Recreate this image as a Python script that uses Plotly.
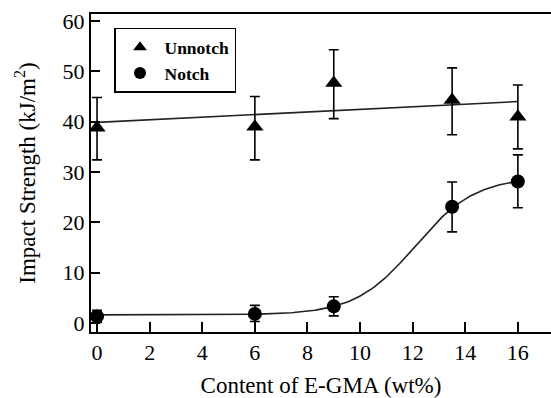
import numpy as np
import plotly.graph_objects as go

# Data
x_content = [0, 6, 9, 13.5, 16]
unnotch = [38.8, 39.0, 47.7, 44.3, 41.0]
unnotch_err_plus = [6.0, 6.0, 6.6, 6.4, 6.3]
unnotch_err_minus = [6.4, 6.6, 7.1, 6.9, 6.4]
notch = [1.3, 1.8, 3.3, 23.1, 28.1]
notch_err_plus = [1.2, 1.7, 1.9, 4.9, 5.3]
notch_err_minus = [1.2, 1.5, 1.9, 5.0, 5.2]

# Sigmoid (Boltzmann) fit parameters
boltz_A1, boltz_A2, boltz_x0, boltz_dx = 1.6, 29.0, 12.1, 1.14

x_ticks = [0, 2, 4, 6, 8, 10, 12, 14, 16]
y_ticks = [0, 10, 20, 30, 40, 50, 60]

FONT = "Liberation Serif, Times New Roman, serif"

# linear fit for unnotched
slope, intercept = np.polyfit(x_content, unnotch, 1)
xl = np.array([0, 16])
yl = slope * xl + intercept

xs = np.linspace(0, 16, 200)
ys = boltz_A2 + (boltz_A1 - boltz_A2) / (1 + np.exp((xs - boltz_x0) / boltz_dx))

fig = go.Figure()
fig.add_trace(go.Scatter(x=xl, y=yl, mode="lines", line=dict(color="#222", width=1.6),
                         showlegend=False, hoverinfo="skip"))
fig.add_trace(go.Scatter(x=xs, y=ys, mode="lines", line=dict(color="#222", width=1.6),
                         showlegend=False, hoverinfo="skip"))
fig.add_trace(go.Scatter(
    x=x_content, y=unnotch, mode="markers", name="Unnotch",
    marker=dict(symbol="triangle-up", size=15, color="black"),
    error_y=dict(type="data", symmetric=False, array=unnotch_err_plus,
                 arrayminus=unnotch_err_minus, color="black", thickness=1.6, width=5)))
fig.add_trace(go.Scatter(
    x=x_content, y=notch, mode="markers", name="Notch",
    marker=dict(symbol="circle", size=14, color="black"),
    error_y=dict(type="data", symmetric=False, array=notch_err_plus,
                 arrayminus=notch_err_minus, color="black", thickness=1.6, width=5)))

fig.update_layout(
    width=551, height=398,
    margin=dict(l=91, r=0, t=14, b=66),
    plot_bgcolor="white", paper_bgcolor="white",
    font=dict(family=FONT, color="black", size=22),
    legend=dict(x=0.05, y=0.956, xanchor="left", yanchor="top",
                bordercolor="black", borderwidth=1.5, bgcolor="white",
                font=dict(family=FONT, size=17.5, color="black", weight="bold"),
                itemsizing="constant", itemwidth=39, tracegroupgap=0),
    xaxis=dict(range=[-0.23, 17.26], tickvals=x_ticks, ticks="inside", ticklen=10,
               tickwidth=1.6, tickcolor="black", showline=True, linecolor="black",
               linewidth=2, mirror=True, showgrid=False, zeroline=False,
               tickfont=dict(size=22),
               title=dict(text="Content of E-GMA (wt%)", font=dict(size=23), standoff=12)),
    yaxis=dict(range=[-1.8, 61.4], tickvals=y_ticks, ticks="inside", ticklen=9,
               tickwidth=1.6, tickcolor="black", showline=True, linecolor="black",
               linewidth=2, showgrid=False, zeroline=False,
               tickfont=dict(size=22),
               title=dict(text="Impact Strength (kJ/m<sup>2</sup>)", font=dict(size=23), standoff=21)),
)

fig.write_html("out.html")
